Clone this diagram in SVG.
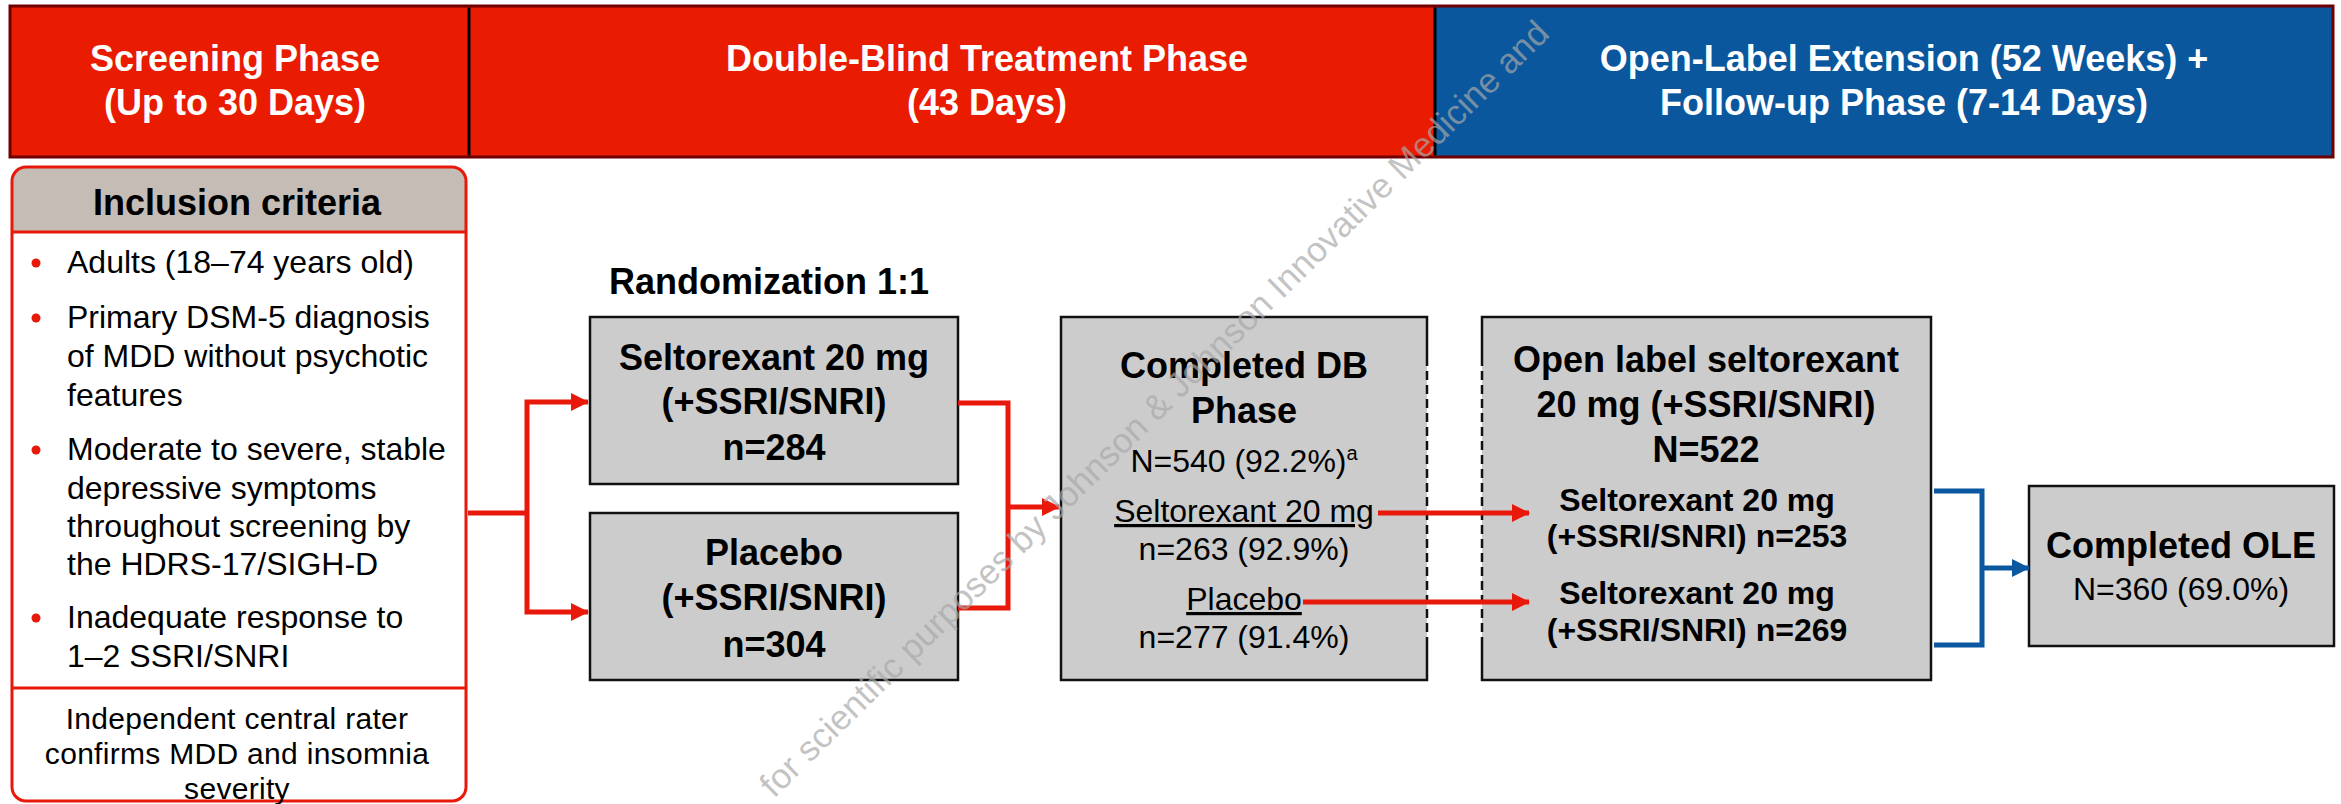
<svg xmlns="http://www.w3.org/2000/svg" width="2341" height="804" viewBox="0 0 2341 804">
  <style>
    text { font-family: "Liberation Sans", Arial, Helvetica, sans-serif; fill: #000; }
    .hdr { fill: #fff; font-weight: bold; font-size: 36px; text-anchor: middle; }
    .b36 { font-weight: bold; font-size: 36px; text-anchor: middle; }
    .b32 { font-weight: bold; font-size: 32px; text-anchor: middle; }
    .r32 { font-size: 32px; text-anchor: middle; }
    .bul { font-size: 32px; }
    .sm { font-size: 30px; text-anchor: middle; letter-spacing: 0.3px; }
    .box { fill: #cccccc; stroke: #111; stroke-width: 2.5; }
    .fill { fill: #cccccc; stroke: none; }
    .edge { fill: none; stroke: #111; stroke-width: 2.5; }
    .dash { fill: none; stroke: #111; stroke-width: 2.5; stroke-dasharray: 9 5; }
    .red { fill: none; stroke: #e8190a; stroke-width: 5; }
    .blue { fill: none; stroke: #0b58a0; stroke-width: 5; }
    .dot { fill: #e8190a; }
    .wm { font-size: 35px; fill: #a8a8a8; fill-opacity: 0.7; }
  </style>
  <defs>
    <marker id="arrowRed" markerUnits="userSpaceOnUse" markerWidth="18" markerHeight="18" viewBox="0 0 18 18" refX="17" refY="9" orient="auto">
      <path d="M0,0 L18,9 L0,18 z" fill="#e8190a"/>
    </marker>
    <marker id="arrowBlue" markerUnits="userSpaceOnUse" markerWidth="18" markerHeight="18" viewBox="0 0 18 18" refX="17" refY="9" orient="auto">
      <path d="M0,0 L18,9 L0,18 z" fill="#0b58a0"/>
    </marker>
  </defs>

  <rect width="2341" height="804" fill="#fff"/>

  <!-- phase banner -->
  <g id="phase-banner">
    <rect x="10" y="6" width="459" height="151" fill="#e91b00"/>
    <rect x="469" y="6" width="966" height="151" fill="#e91b00"/>
    <rect x="1435" y="6" width="898" height="151" fill="#0a579e"/>
    <rect x="10" y="6" width="2323" height="151" fill="none" stroke="#700000" stroke-width="3"/>
    <line x1="469" y1="7.5" x2="469" y2="155.5" stroke="#000" stroke-width="3"/>
    <line x1="1435" y1="7.5" x2="1435" y2="155.5" stroke="#000" stroke-width="3"/>
    <text class="hdr" x="235" y="71">Screening Phase</text>
    <text class="hdr" x="235" y="115">(Up to 30 Days)</text>
    <text class="hdr" x="987" y="71">Double-Blind Treatment Phase</text>
    <text class="hdr" x="987" y="115">(43 Days)</text>
    <text class="hdr" x="1904" y="71">Open-Label Extension (52 Weeks) +</text>
    <text class="hdr" x="1904" y="115">Follow-up Phase (7-14 Days)</text>
  </g>

  <!-- inclusion criteria panel -->
  <g id="inclusion-criteria">
    <path d="M12,232 V181 Q12,167 26,167 H452 Q466,167 466,181 V232 Z" fill="#c4bcb5"/>
    <rect x="12" y="167" width="454" height="634" rx="14" ry="14" fill="none" stroke="#e8190a" stroke-width="3"/>
    <line x1="12" y1="232" x2="466" y2="232" stroke="#e8190a" stroke-width="3"/>
    <line x1="12" y1="688" x2="466" y2="688" stroke="#e8190a" stroke-width="3"/>
    <text class="b36" x="237" y="215">Inclusion criteria</text>
    <circle class="dot" cx="36" cy="263" r="4.5"/>
    <circle class="dot" cx="36" cy="318" r="4.5"/>
    <circle class="dot" cx="36" cy="450" r="4.5"/>
    <circle class="dot" cx="36" cy="618" r="4.5"/>
    <text class="bul" x="67" y="273">Adults (18–74 years old)</text>
    <text class="bul" x="67" y="328">Primary DSM-5 diagnosis</text>
    <text class="bul" x="67" y="367">of MDD without psychotic</text>
    <text class="bul" x="67" y="406">features</text>
    <text class="bul" x="67" y="460">Moderate to severe, stable</text>
    <text class="bul" x="67" y="499">depressive symptoms</text>
    <text class="bul" x="67" y="537">throughout screening by</text>
    <text class="bul" x="67" y="575">the HDRS-17/SIGH-D</text>
    <text class="bul" x="67" y="628">Inadequate response to</text>
    <text class="bul" x="67" y="667">1–2 SSRI/SNRI</text>
    <text class="sm" x="237" y="729">Independent central rater</text>
    <text class="sm" x="237" y="764">confirms MDD and insomnia</text>
    <text class="sm" x="237" y="799">severity</text>
  </g>

  <!-- randomisation label -->
  <g id="randomization">
    <text class="b36" x="609" y="294" style="text-anchor:start">Randomization 1:1</text>
  </g>

  <!-- double-blind arms -->
  <g id="arm-seltorexant">
    <rect class="box" x="590" y="317" width="368" height="167"/>
    <text class="b36" x="774" y="370">Seltorexant 20 mg</text>
    <text class="b36" x="774" y="414">(+SSRI/SNRI)</text>
    <text class="b36" x="774" y="460">n=284</text>
  </g>
  <g id="arm-placebo">
    <rect class="box" x="590" y="513" width="368" height="167"/>
    <text class="b36" x="774" y="565">Placebo</text>
    <text class="b36" x="774" y="610">(+SSRI/SNRI)</text>
    <text class="b36" x="774" y="657">n=304</text>
  </g>

  <!-- completed double-blind phase -->
  <g id="completed-db">
    <rect class="fill" x="1061" y="317" width="366" height="363"/>
    <path class="edge" d="M1427,357 V317 H1061 V680 H1427 V638"/>
    <path class="dash" d="M1427,357 V638"/>
    <text class="b36" x="1244" y="378">Completed DB</text>
    <text class="b36" x="1244" y="423">Phase</text>
    <text class="r32" x="1244" y="472">N=540 (92.2%)<tspan font-size="20" dy="-12">a</tspan></text>
    <text class="r32" x="1244" y="522" text-decoration="underline">Seltorexant 20 mg</text>
    <text class="r32" x="1244" y="560">n=263 (92.9%)</text>
    <text class="r32" x="1244" y="610" text-decoration="underline">Placebo</text>
    <text class="r32" x="1244" y="648">n=277 (91.4%)</text>
  </g>

  <!-- open-label extension -->
  <g id="open-label">
    <rect class="fill" x="1482" y="317" width="449" height="363"/>
    <path class="edge" d="M1482,357 V317 H1931 V680 H1482 V638"/>
    <path class="dash" d="M1482,357 V638"/>
    <text class="b36" x="1706" y="372">Open label seltorexant</text>
    <text class="b36" x="1706" y="417">20 mg (+SSRI/SNRI)</text>
    <text class="b36" x="1706" y="462">N=522</text>
    <text class="b32" x="1697" y="511">Seltorexant 20 mg</text>
    <text class="b32" x="1697" y="547">(+SSRI/SNRI) n=253</text>
    <text class="b32" x="1697" y="604">Seltorexant 20 mg</text>
    <text class="b32" x="1697" y="641">(+SSRI/SNRI) n=269</text>
  </g>

  <!-- completed open-label extension -->
  <g id="completed-ole">
    <rect class="box" x="2029" y="486" width="305" height="160"/>
    <text class="b36" x="2181" y="558">Completed OLE</text>
    <text class="r32" x="2181" y="600">N=360 (69.0%)</text>
  </g>

  <!-- flow connectors -->
  <g id="connectors">
    <path class="red" d="M468,513 H527"/>
    <path class="red" d="M527,513 V402 H588" marker-end="url(#arrowRed)"/>
    <path class="red" d="M527,513 V612 H588" marker-end="url(#arrowRed)"/>
    <path class="red" d="M958,403 H1008 V608 H958"/>
    <path class="red" d="M1008,507 H1059" marker-end="url(#arrowRed)"/>
    <path class="red" d="M1378,513 H1529" marker-end="url(#arrowRed)"/>
    <path class="red" d="M1303,602 H1529" marker-end="url(#arrowRed)"/>
    <path class="blue" d="M1934,491 H1982 V645 H1934"/>
    <path class="blue" d="M1982,568 H2029" marker-end="url(#arrowBlue)"/>
  </g>

  <!-- distribution notice -->
  <text class="wm" transform="translate(774,799) rotate(-44.5)">for scientific purposes by Johnson &amp; Johnson Innovative Medicine and</text>
</svg>
